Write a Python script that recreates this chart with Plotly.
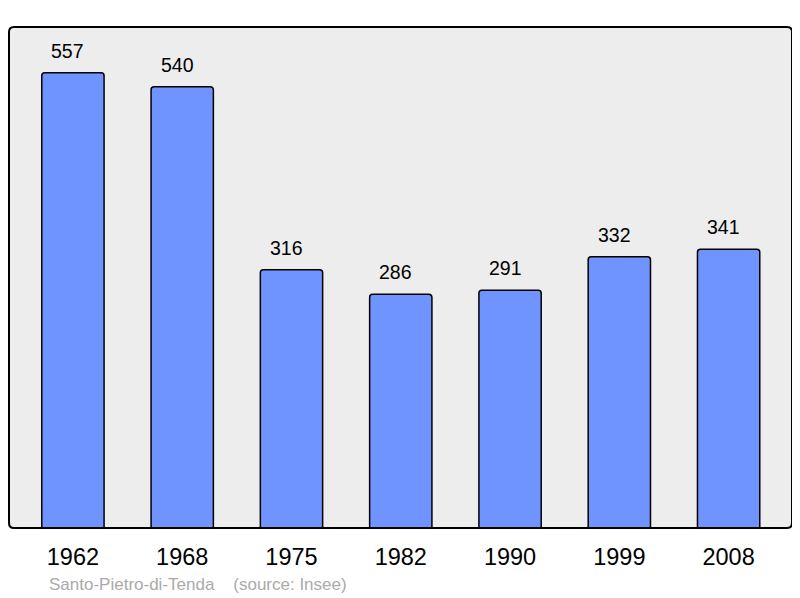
import plotly.graph_objects as go

years = ["1962", "1968", "1975", "1982", "1990", "1999", "2008"]
population = [557, 540, 316, 286, 291, 332, 341]
source_text = "Santo-Pietro-di-Tenda    (source: Insee)"

FONT = "Liberation Sans, Arial, sans-serif"

fig = go.Figure()
fig.add_trace(go.Bar(
    x=years, y=population,
    width=0.57,
    marker=dict(color="#7094FF", line=dict(color="black", width=1.5), cornerradius=3),
    hoverinfo="skip",
))

for i, v in enumerate(population):
    fig.add_annotation(x=i, y=v, text=str(v), showarrow=False, yanchor="bottom",
                       yshift=9, xshift=-5, font=dict(size=19.5, color="black", family=FONT))

fig.add_annotation(xref="paper", yref="paper", x=(47 - 9) / 783, y=(528 - 584) / 501,
                   xanchor="left", yanchor="middle", text=source_text, showarrow=False,
                   font=dict(size=17, color="#AAAAAA", family=FONT))

# rounded frame around the plotting area (radius ~5px)
rx, ry = 5 / 783, 5 / 501
frame = (f"M {rx},0 L {1-rx},0 Q 1,0 1,{ry} L 1,{1-ry} Q 1,1 {1-rx},1 "
         f"L {rx},1 Q 0,1 0,{1-ry} L 0,{ry} Q 0,0 {rx},0 Z")
fig.add_shape(type="path", xref="paper", yref="paper", path=frame,
              line=dict(color="black", width=2), layer="above")

# The page body adds an 8px offset; size the figure to compensate.
fig.update_layout(
    width=792, height=590,
    margin=dict(l=1, r=8, t=19, b=70, autoexpand=False),
    plot_bgcolor="#EDEDED", paper_bgcolor="white",
    showlegend=False,
    xaxis=dict(type="category", range=[-0.585, 6.58], showgrid=False, zeroline=False, ticks="",
               tickfont=dict(size=23.5, color="black", family=FONT),
               ticklabelstandoff=12, automargin=False),
    yaxis=dict(range=[0, 613], showgrid=False, zeroline=False, showticklabels=False, ticks="",
               automargin=False),
)

fig.write_html("out.html")
